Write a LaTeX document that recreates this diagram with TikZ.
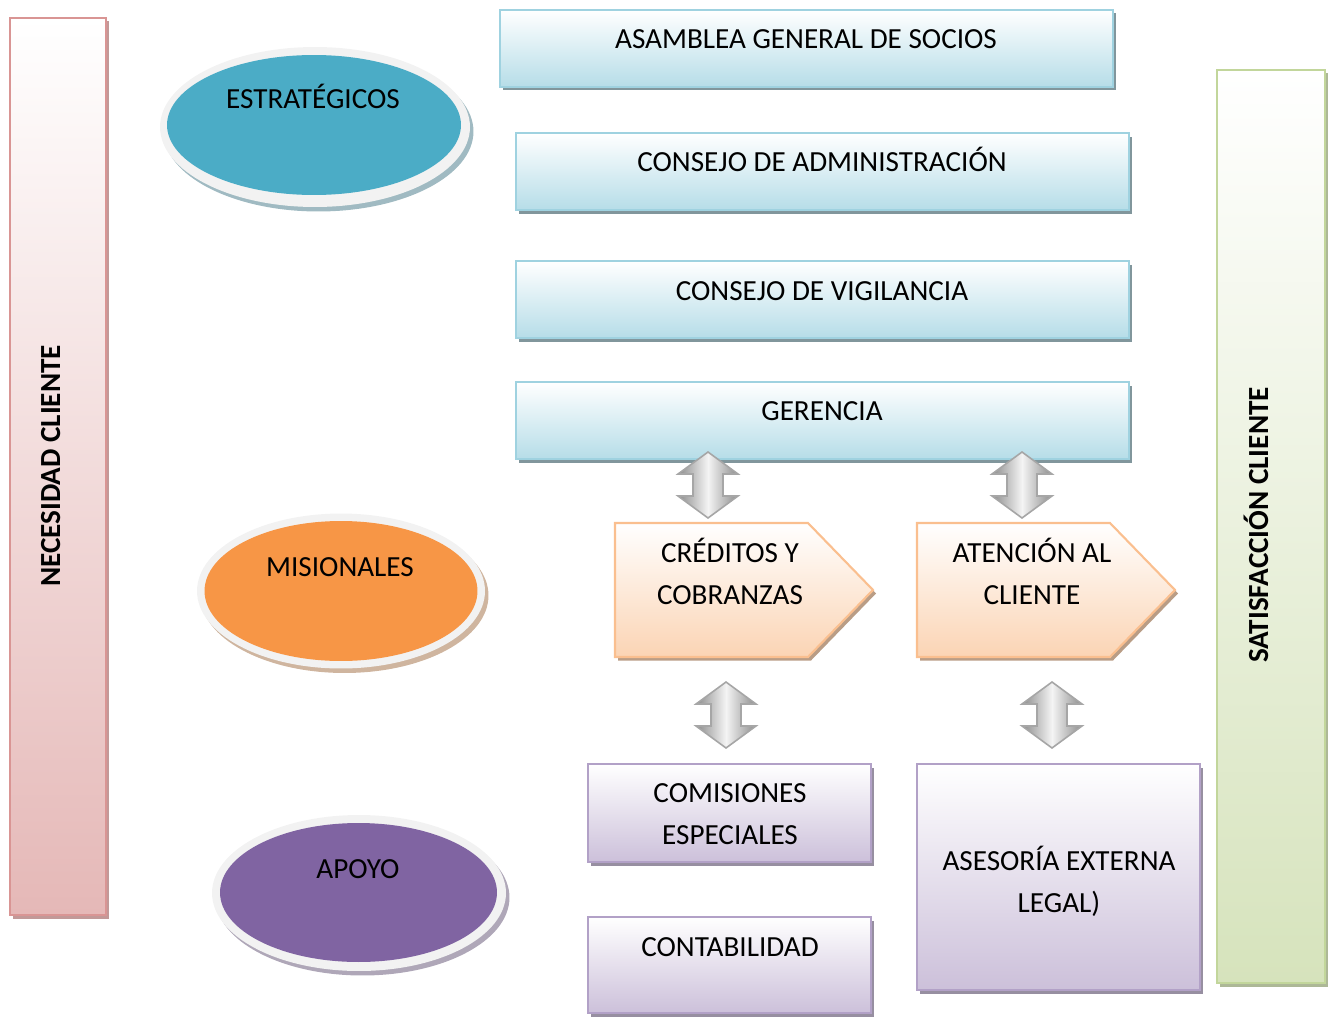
\documentclass[tikz,border=0pt]{standalone}
\usepackage{fontspec}
\setmainfont{Carlito}
\usetikzlibrary{shadows}

\definecolor{pinkbd}{HTML}{D99594}
\definecolor{pinkbot}{HTML}{E5B8B7}
\definecolor{greenbd}{HTML}{C2D69B}
\definecolor{greenbot}{HTML}{D6E3BC}
\definecolor{bluebd}{HTML}{9FD2E0}
\definecolor{bluebot}{HTML}{B6DDE8}
\definecolor{orangebd}{HTML}{FABF8F}
\definecolor{orangebot}{HTML}{FBD4B4}
\definecolor{purplebd}{HTML}{B2A1C7}
\definecolor{purplebot}{HTML}{CCC0DA}
\definecolor{estrcol}{HTML}{4BACC6}
\definecolor{misicol}{HTML}{F79646}
\definecolor{apoycol}{HTML}{8064A2}
\definecolor{rimcol}{HTML}{F2F2F2}
\definecolor{arrowdark}{HTML}{8C8C8C}
\definecolor{arrowlight}{HTML}{F4F4F4}

\tikzset{
  lbl/.style={font=\fontsize{16.6}{23.6}\selectfont, align=center, inner sep=0pt, anchor=base},
  sidelbl/.style={font=\fontsize{16.6}{23.6}\selectfont\bfseries, inner sep=0pt, anchor=base, rotate=90},
  boxshade/.style={drop shadow={shadow xshift=0.06cm, shadow yshift=-0.07cm, fill=#1, opacity=0.75}},
  pinkbar/.style={draw=pinkbd, line width=1.2pt, top color=white, bottom color=pinkbot, boxshade=pinkbd!80!black},
  greenbar/.style={draw=greenbd, line width=1.2pt, top color=white, bottom color=greenbot, boxshade=greenbd!75!black},
  bluebox/.style={draw=bluebd, line width=1.2pt, top color=white, bottom color=bluebot, boxshade=bluebd!55!black},
  orangebox/.style={draw=orangebd, line width=1.2pt, top color=white, bottom color=orangebot, boxshade=orangebd!65!black},
  purplebox/.style={draw=purplebd, line width=1.2pt, top color=white, bottom color=purplebot, boxshade=purplebd!65!black},
  rim/.style={fill=rimcol, drop shadow={shadow xshift=0.07cm, shadow yshift=-0.09cm, fill=#1, opacity=0.45}},
  updown/.style={draw=gray!70, line width=0.9pt, left color=arrowdark, right color=arrowdark, middle color=arrowlight},
  updownshade/.style={fill=black, opacity=0.18},
}

% vertical double block arrow between two named points
\newcommand\linkarrow[3][updown]{%
  \path[#1] (#2) -- ++(30,22) -- ++(-15,0) |- ([xshift=15*0.02cm,yshift=22*0.02cm]#3)
    -- ++(15,0) -- (#3) -- ++(-30,-22) -- ++(15,0) |- ([xshift=-15*0.02cm,yshift=-22*0.02cm]#2)
    -- ++(-15,0) -- cycle;}

\begin{document}
\begin{tikzpicture}[x=0.02cm,y=-0.02cm]
\useasboundingbox (0,0) rectangle (1334,1017);

% side bars
\path[pinkbar] (10,18) rectangle (106,915);
\node[sidelbl] (necesidad) at (60,466) {NECESIDAD CLIENTE};
\path[greenbar] (1217,70) rectangle (1325,983);
\node[sidelbl] (satisfaccion) at (1268,525) {SATISFACCIÓN CLIENTE};

% process-type ellipses
\path[rim=estrcol!60!black] (315,127) ellipse [x radius=3.1cm, y radius=1.6cm];
\path[fill=estrcol] (314,125) ellipse [x radius=2.94cm, y radius=1.4cm];
\node[lbl] (estrategicos) at (313,109) {ESTRATÉGICOS};

\path[rim=misicol!60!black] (341,591) ellipse [x radius=2.88cm, y radius=1.55cm];
\path[fill=misicol] (341,591) ellipse [x radius=2.73cm, y radius=1.4cm];
\node[lbl] (misionales) at (340,576) {MISIONALES};

\path[rim=apoycol!60!black] (359,893) ellipse [x radius=2.94cm, y radius=1.56cm];
\path[fill=apoycol] (358.5,892.5) ellipse [x radius=2.77cm, y radius=1.39cm];
\node[lbl] (apoyo) at (358,878) {APOYO};

% governing bodies
\path[bluebox] (500,10) rectangle (1113,87);
\node[lbl] (asamblea) at (806,49) {ASAMBLEA GENERAL DE SOCIOS};
\path[bluebox] (516,133) rectangle (1129,210);
\node[lbl] (admin) at (822,171) {CONSEJO DE ADMINISTRACIÓN};
\path[bluebox] (516,261) rectangle (1129,338);
\node[lbl] (vigilancia) at (822,300) {CONSEJO DE VIGILANCIA};
\path[bluebox] (516,382) rectangle (1129,459);
\node[lbl] (gerencia) at (822,420) {GERENCIA};

% mission processes
\path[orangebox] (615,523) -- (808,523) -- (873,590) -- (808,657) -- (615,657) -- cycle;
\node[lbl] (creditos) at (730,604) {CRÉDITOS Y\\COBRANZAS};
\path[orangebox] (917,523) -- (1110,523) -- (1175,590) -- (1110,657) -- (917,657) -- cycle;
\node[lbl] (atencion) at (1032,604) {ATENCIÓN AL\\CLIENTE};

% support processes
\path[purplebox] (588,764) rectangle (871,862);
\node[lbl] (comisiones) at (730,844) {COMISIONES\\ESPECIALES};
\path[purplebox] (588,917) rectangle (871,1013);
\node[lbl] (contabilidad) at (730,956) {CONTABILIDAD};
\path[purplebox] (917,764) rectangle (1200,990);
\node[lbl] (asesoria) at (1059,912) {ASESORÍA EXTERNA\\LEGAL)};

% links
\coordinate (g1) at (708,452); \coordinate (c1) at (708,518);
\coordinate (g2) at (1022,452); \coordinate (c2) at (1022,518);
\coordinate (m1) at (726,682); \coordinate (s1) at (726,748);
\coordinate (m2) at (1052,682); \coordinate (s2) at (1052,748);
\begin{scope}[xshift=0.04cm, yshift=-0.07cm]
  \linkarrow[updownshade]{g1}{c1}
  \linkarrow[updownshade]{g2}{c2}
  \linkarrow[updownshade]{m1}{s1}
  \linkarrow[updownshade]{m2}{s2}
\end{scope}
\linkarrow{g1}{c1}
\linkarrow{g2}{c2}
\linkarrow{m1}{s1}
\linkarrow{m2}{s2}
\end{tikzpicture}
\end{document}
